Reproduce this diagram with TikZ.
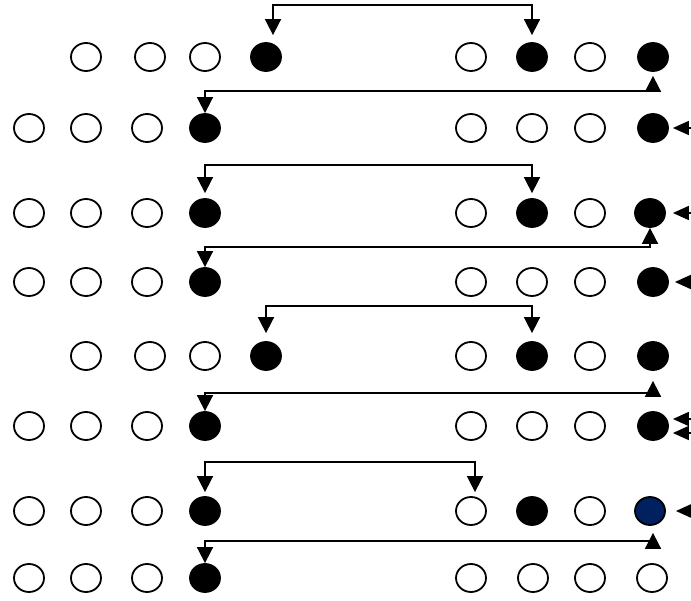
\documentclass[tikz,border=0pt]{standalone}
\usepackage{tikz}
\usetikzlibrary{arrows.meta,shapes.geometric}
\definecolor{bdNavy}{RGB}{0,32,96}
\definecolor{bdLine}{RGB}{0,0,0}

\begin{document}
\begin{tikzpicture}[
  x=1pt, y=-1pt,
  hole/.style={ellipse, draw=bdLine, line width=1.8pt, fill=white, inner sep=0pt, minimum width=30pt, minimum height=28pt},
  bead/.style={hole, fill=black},
  navybead/.style={hole, fill=bdNavy},
  link/.style={arrows={Triangle[length=16pt,width=16pt]-Triangle[length=16pt,width=16pt]}, line width=1.7pt, draw=bdLine},
  feed/.style={arrows={-Triangle[length=16pt,width=14pt]}, line width=1.7pt, draw=bdLine, shorten >=4pt}
]
\useasboundingbox (0,0) rectangle (691,601);
% row 1
\node[hole] (l11) at (86,57) {};
\node[hole] (l12) at (150,57) {};
\node[hole] (l13) at (205,57) {};
\node[bead] (l14) at (266,57) {};
\node[hole] (r11) at (471,57) {};
\node[bead] (r12) at (532,57) {};
\node[hole] (r13) at (590,57) {};
\node[bead] (r14) at (653,57) {};
% row 2
\node[hole] (l21) at (29,128) {};
\node[hole] (l22) at (86,128) {};
\node[hole] (l23) at (147,128) {};
\node[bead] (l24) at (205,128) {};
\node[hole] (r21) at (471,128) {};
\node[hole] (r22) at (532,128) {};
\node[hole] (r23) at (590,128) {};
\node[bead] (r24) at (653,128) {};
% row 3
\node[hole] (l31) at (29,213) {};
\node[hole] (l32) at (86,213) {};
\node[hole] (l33) at (147,213) {};
\node[bead] (l34) at (205,213) {};
\node[hole] (r31) at (471,213) {};
\node[bead] (r32) at (532,213) {};
\node[hole] (r33) at (590,213) {};
\node[bead] (r34) at (650,213) {};
% row 4
\node[hole] (l41) at (29,282) {};
\node[hole] (l42) at (86,282) {};
\node[hole] (l43) at (147,282) {};
\node[bead] (l44) at (205,282) {};
\node[hole] (r41) at (471,282) {};
\node[hole] (r42) at (532,282) {};
\node[hole] (r43) at (590,282) {};
\node[bead] (r44) at (653,282) {};
% row 5
\node[hole] (l51) at (86,356) {};
\node[hole] (l52) at (150,356) {};
\node[hole] (l53) at (205,356) {};
\node[bead] (l54) at (266,356) {};
\node[hole] (r51) at (471,356) {};
\node[bead] (r52) at (532,356) {};
\node[hole] (r53) at (590,356) {};
\node[bead] (r54) at (653,356) {};
% row 6
\node[hole] (l61) at (29,426) {};
\node[hole] (l62) at (86,426) {};
\node[hole] (l63) at (147,426) {};
\node[bead] (l64) at (205,426) {};
\node[hole] (r61) at (471,426) {};
\node[hole] (r62) at (532,426) {};
\node[hole] (r63) at (590,426) {};
\node[bead] (r64) at (653,426) {};
% row 7
\node[hole] (l71) at (29,511) {};
\node[hole] (l72) at (86,511) {};
\node[hole] (l73) at (147,511) {};
\node[bead] (l74) at (205,511) {};
\node[hole] (r71) at (471,511) {};
\node[bead] (r72) at (532,511) {};
\node[hole] (r73) at (590,511) {};
\node[navybead] (r74) at (650,511) {};
% row 8
\node[hole] (l81) at (29,578) {};
\node[hole] (l82) at (86,578) {};
\node[hole] (l83) at (147,578) {};
\node[bead] (l84) at (205,578) {};
\node[hole] (r81) at (471,578) {};
\node[hole] (r82) at (533,578) {};
\node[hole] (r83) at (590,578) {};
\node[hole] (r84) at (652,578) {};
% links between rows
\draw[link, shorten <=7pt, shorten >=7pt] ([xshift=7pt]l14.north) -- ++(0,-37) -| (r12.north);
\draw[link, shorten <=4pt] (r14.south) -- ++(0,19) -| (l24.north);
\draw[link, shorten <=5pt, shorten >=5pt] (l34.north) -- ++(0,-33) -| (r32.north);
\draw[link] (r34.south) -- ++(0,19) -| (l44.north);
\draw[link, shorten <=8pt, shorten >=8pt] (l54.north) -- ++(0,-35) -| (r52.north);
\draw[link, shorten <=10pt] (r54.south) -- ++(0,22) -| (l64.north);
\draw[link, shorten <=4pt, shorten >=4pt] (l74.north) -- ++(0,-34) -| ([xshift=4pt]r71.north);
\draw[link, shorten <=7pt] ([xshift=3pt]r74.south) -- ++(0,15) -| (l84.north);
% inputs from the right
\coordinate (in2) at (691,128);
\coordinate (in3) at (691,213);
\coordinate (in4) at (691,282);
\coordinate (in6a) at (691,419);
\coordinate (in6b) at (691,433);
\coordinate (in7) at (691,511);
\draw[feed] (in2) -- (r24);
\draw[feed, shorten >=7pt] (in3) -- (r34);
\draw[feed, shorten >=6pt] (in4) -- (r44);
\draw[feed] (in6a) -- ([yshift=7pt]r64.east);
\draw[feed] (in6b) -- ([yshift=-7pt]r64.east);
\draw[feed, shorten >=10pt] (in7) -- (r74);
\end{tikzpicture}
\end{document}
